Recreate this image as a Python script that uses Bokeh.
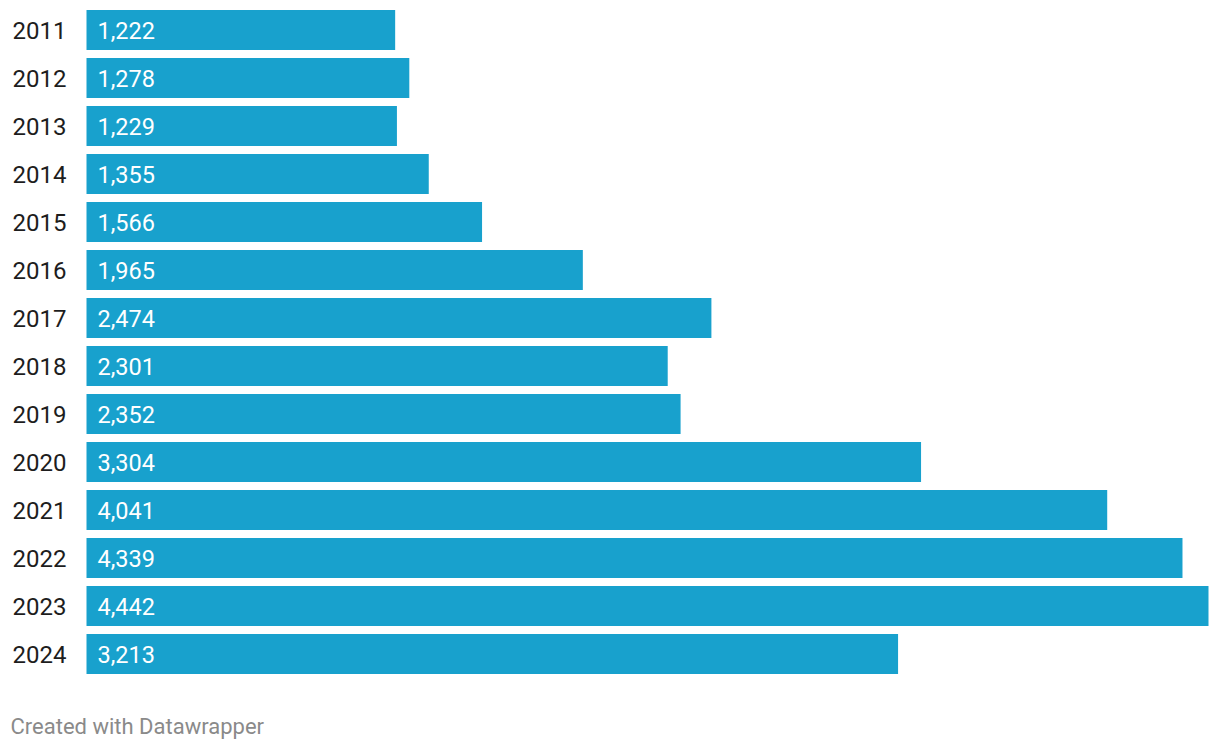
from bokeh.plotting import figure
from bokeh.models import Range1d, ColumnDataSource, Label
from bokeh.core.properties import value
from bokeh.embed import file_html
from bokeh.resources import INLINE

years = ["2011", "2012", "2013", "2014", "2015", "2016", "2017", "2018",
         "2019", "2020", "2021", "2022", "2023", "2024"]
counts = [1222, 1278, 1229, 1355, 1566, 1965, 2474, 2301, 2352, 3304,
          4041, 4339, 4442, 3213]
labels = [f"{v:,}" for v in counts]

W, H = 1216, 746
left = 86          # canvas px where bars start
maxw = 1122        # px width of the largest bar
s = maxw / max(counts)
row = 48.0
top_c = 29.5

idx = list(range(len(years)))
src = ColumnDataSource(dict(y=idx, v=counts, year=years, lab=labels,
                            zero=[0] * len(idx)))

p = figure(width=W, height=H, output_backend="svg", toolbar_location=None,
           min_border=0, x_axis_location=None, y_axis_location=None,
           x_range=Range1d(-left / s, (W - left) / s),
           y_range=Range1d((H - top_c) / row, -top_c / row))
p.outline_line_color = None
p.grid.visible = False
p.background_fill_color = "white"
p.border_fill_color = "white"

p.hbar(y="y", left=0, right="v", height=40 / row, source=src,
       fill_color="#18a1cd", line_color=None)

p.text(x=-left / s, y="y", text="year", source=src, x_offset=12,
       text_align="left", text_baseline="middle", text_font=value("Roboto"),
       text_font_size="24px", text_color="#1d1d1d")
p.text(x="zero", y="y", text="lab", source=src, x_offset=11,
       text_align="left", text_baseline="middle", text_font=value("Roboto"),
       text_font_size="23.5px", text_color="white")

p.add_layout(Label(x=10, y=H - 726, x_units="screen", y_units="screen",
                   text="Created with Datawrapper", text_font="Roboto",
                   text_font_size="22px", text_color="#8a8a8a",
                   text_baseline="middle", text_align="left"))

open("out.html", "w").write(file_html(p, INLINE))
